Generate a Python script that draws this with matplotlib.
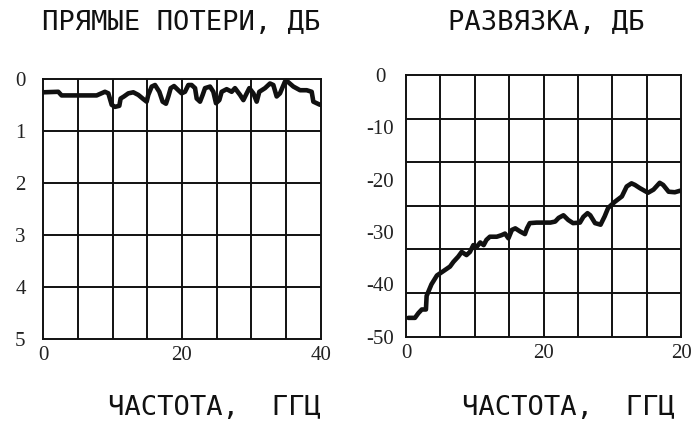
import numpy as np
import matplotlib
matplotlib.use("Agg")
import matplotlib.pyplot as plt

# Insertion loss, dB (0..40 GHz)
il_freq = [0.0, 2.16, 2.64, 7.69, 8.89, 9.38, 9.86, 10.34, 10.96, 11.15, 11.63, 12.26,
           12.98, 13.70, 14.42, 14.90, 15.14, 15.63, 16.11, 16.73, 17.21, 17.69, 18.03,
           18.37, 18.85, 19.47, 19.95, 20.43, 20.91, 21.39, 21.88, 22.12, 22.60, 22.98,
           23.32, 24.04, 24.52, 24.90, 25.38, 25.72, 26.44, 27.16, 27.64, 28.37, 28.85,
           29.33, 29.71, 30.29, 30.77, 31.15, 31.97, 32.69, 33.17, 33.65, 34.13, 34.86,
           35.19, 36.06, 37.02, 37.98, 38.70, 38.94, 39.90]
il_db = [0.25, 0.24, 0.31, 0.31, 0.24, 0.27, 0.49, 0.53, 0.51, 0.37, 0.33, 0.27,
         0.25, 0.30, 0.38, 0.43, 0.30, 0.14, 0.11, 0.24, 0.43, 0.47, 0.33,
         0.17, 0.13, 0.21, 0.27, 0.24, 0.11, 0.11, 0.17, 0.37, 0.43, 0.30,
         0.17, 0.14, 0.24, 0.46, 0.40, 0.24, 0.19, 0.24, 0.17, 0.30, 0.40,
         0.27, 0.17, 0.27, 0.43, 0.24, 0.17, 0.08, 0.11, 0.33, 0.27, 0.04,
         0.04, 0.14, 0.21, 0.21, 0.24, 0.43, 0.49]

# Isolation, dB
iso_freq = [0.34, 1.3, 1.8, 2.3, 2.9, 2.95, 3.0, 3.7, 4.5, 5.4, 6.4, 6.9, 7.6, 8.1,
            8.8, 9.3, 9.8, 10.3, 10.8, 11.3, 11.7, 12.2, 13.2, 13.9, 14.4, 14.9,
            15.4, 15.9, 16.6, 17.3, 17.6, 18.0, 19.0, 20.0, 21.0, 21.7, 22.2, 22.9,
            23.6, 24.3, 25.3, 25.8, 26.4, 26.8, 27.5, 28.3, 28.9, 29.4, 30.4, 31.4,
            32.1, 32.8, 33.3, 34.0, 35.2, 36.0, 36.9, 37.4, 38.2, 39.1, 39.9]
iso_db = [-46.4, -46.4, -45.5, -44.8, -44.8, -43.5, -42.2, -40.0, -38.3, -37.5, -36.6,
          -35.7, -34.7, -33.8, -34.4, -33.8, -32.5, -32.8, -32.0, -32.5, -31.5, -30.9,
          -30.9, -30.6, -30.3, -31.2, -29.6, -29.3, -29.9, -30.4, -29.3, -28.3, -28.2,
          -28.2, -28.2, -28.0, -27.3, -26.8, -27.7, -28.3, -28.2, -27.1, -26.4, -26.8,
          -28.3, -28.6, -27.0, -25.4, -24.2, -23.2, -21.3, -20.7, -21.0, -21.6, -22.5,
          -21.9, -20.6, -21.0, -22.3, -22.4, -22.1]

left_yticks = [0, 1, 2, 3, 4, 5]
left_ylabels = ["0", "1", "2", "3", "4", "5"]
right_yticks = [0, -10, -20, -30, -40, -50]
right_ylabels = ["0", "-10", "-20", "-30", "-40", "-50"]
xticks = [0, 20, 40]
left_xlabels = ["0", "20", "40"]
right_xlabels = ["0", "20", "20"]

title_font = dict(family="DejaVu Sans Mono", size=19.5, color="#111111")
tick_font = "Liberation Serif"
ink = "#111111"

fig = plt.figure(figsize=(6.96, 4.21), dpi=100)
fig.patch.set_facecolor("white")

ax1 = fig.add_axes([43.3 / 696, 81.7 / 421, 277.4 / 696, 260 / 421])
ax2 = fig.add_axes([406 / 696, 84.3 / 421, 275 / 696, 261.7 / 421])


def style(ax, xgrid, ygrid, lpad):
    for gx in xgrid:
        ax.axvline(gx, color=ink, linewidth=1.4, zorder=1)
    for gy in ygrid:
        ax.axhline(gy, color=ink, linewidth=1.4, zorder=1)
    ax.tick_params(which="both", length=0)
    ax.tick_params(axis="x", pad=5)
    ax.tick_params(axis="y", pad=lpad)
    for s in ax.spines.values():
        s.set_color(ink)
        s.set_linewidth(1.4)
    for lab in ax.get_yticklabels():
        lab.set_horizontalalignment("center")
        lab.set_fontfamily(tick_font)
        lab.set_fontsize(15)
        lab.set_color("#222222")
    for lab in ax.get_xticklabels():
        lab.set_fontfamily(tick_font)
        lab.set_fontsize(15)
        lab.set_color("#222222")


# Left: insertion loss
ax1.plot(il_freq, il_db, color=ink, linewidth=3.3, solid_joinstyle="round",
         solid_capstyle="round", zorder=3)
ax1.set_xlim(0, 40)
ax1.set_ylim(5, 0)
ax1.set_xticks(xticks, left_xlabels)
ax1.set_yticks(left_yticks, left_ylabels)
style(ax1, np.arange(5, 40, 5), np.arange(1, 5, 1), 16.5)

# Right: isolation
ax2.plot(iso_freq, iso_db, color=ink, linewidth=3.3, solid_joinstyle="round",
         solid_capstyle="round", zorder=3)
ax2.set_xlim(0, 40)
ax2.set_ylim(-50, 0)
ax2.set_xticks(xticks, right_xlabels)
ax2.set_yticks(right_yticks, right_ylabels)
style(ax2, np.arange(5, 40, 5), np.linspace(-50, 0, 7)[1:-1], 18.5)

fig.text(42 / 696, 1 - 23 / 421, "ПРЯМЫЕ ПОТЕРИ, ДБ", ha="left", va="center", **title_font)
fig.text(448 / 696, 1 - 23 / 421, "РАЗВЯЗКА, ДБ", ha="left", va="center", **title_font)
fig.text(108 / 696, 1 - 408 / 421, "ЧАСТОТА,  ГГЦ", ha="left", va="center", **title_font)
fig.text(462 / 696, 1 - 408 / 421, "ЧАСТОТА,  ГГЦ", ha="left", va="center", **title_font)

fig.savefig("out.png", dpi=100, facecolor="white")
